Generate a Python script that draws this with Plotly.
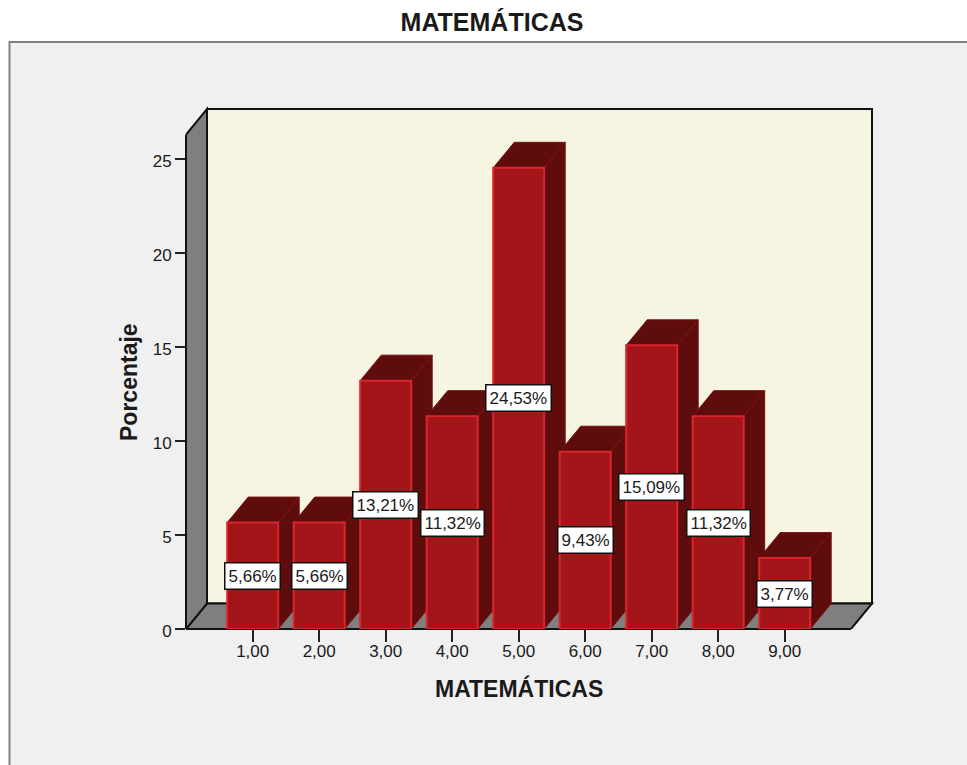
import plotly.graph_objects as go

categories = [1, 2, 3, 4, 5, 6, 7, 8, 9]
category_labels = ["1,00", "2,00", "3,00", "4,00", "5,00", "6,00", "7,00", "8,00", "9,00"]
percentages = [5.66, 5.66, 13.21, 11.32, 24.53, 9.43, 15.09, 11.32, 3.77]
y_ticks = [0, 5, 10, 15, 20, 25]

# Figure geometry, in page pixels
WIDTH, HEIGHT = 967, 765
LEFT, RIGHT, TOP, BOTTOM = 186, 876, 105, 629
PX_PER_CAT = 66.5
PX_PER_PCT = 18.8
FIRST_CAT_PX = 252.7

# Axis ranges follow from the geometry
x_min = 1 - (FIRST_CAT_PX - LEFT) / PX_PER_CAT
x_max = 1 + (RIGHT - FIRST_CAT_PX) / PX_PER_CAT
y_max = (BOTTOM - TOP) / PX_PER_PCT

# Extrusion of the pseudo-3D box
DEPTH_X = 21 / PX_PER_CAT
DEPTH_Y = 25.5 / PX_PER_PCT
BAR_WIDTH = 51 / PX_PER_CAT
floor_front_end = 1 + (851 - FIRST_CAT_PX) / PX_PER_CAT
wall_top = (BOTTOM - 109) / PX_PER_PCT

FONT = "Liberation Sans"
INK = "#1a1a1a"
FRONT = "#a31518"
DARK = "#5e0c0c"
EDGE = "#d9262e"
WALL = "#7f7f7f"
BACK = "#f6f5e1"
PANEL = "#f0f0f0"


def poly(points):
    return "M" + " L".join(f"{x},{y}" for x, y in points) + " Z"


def px_x(px):
    return (px - LEFT) / (RIGHT - LEFT)


def px_y(px):
    return (BOTTOM - px) / (BOTTOM - TOP)


shapes = [
    # Surrounding chart panel, running off the right and bottom edges
    dict(type="rect", xref="paper", yref="paper", layer="below",
         x0=px_x(9.5), x1=px_x(WIDTH + 10), y0=px_y(HEIGHT + 10), y1=px_y(42),
         fillcolor=PANEL, line=dict(color="#808080", width=2)),
    # Back wall
    dict(type="path", xref="x", yref="y", layer="below",
         path=poly([(x_min + DEPTH_X, DEPTH_Y), (x_min + DEPTH_X, wall_top),
                    (floor_front_end + DEPTH_X, wall_top), (floor_front_end + DEPTH_X, DEPTH_Y)]),
         fillcolor=BACK, line=dict(color="#111111", width=2)),
    # Floor
    dict(type="path", xref="x", yref="y", layer="below",
         path=poly([(x_min, 0), (floor_front_end, 0),
                    (floor_front_end + DEPTH_X, DEPTH_Y), (x_min + DEPTH_X, DEPTH_Y)]),
         fillcolor=WALL, line=dict(color="#111111", width=2)),
    # Left wall
    dict(type="path", xref="x", yref="y", layer="below",
         path=poly([(x_min, 0), (x_min, wall_top - DEPTH_Y),
                    (x_min + DEPTH_X, wall_top), (x_min + DEPTH_X, DEPTH_Y)]),
         fillcolor=WALL, line=dict(color="#111111", width=2)),
    # Front edges that sit on the plot boundary
    dict(type="line", xref="x", yref="paper", layer="below",
         x0=x_min, x1=floor_front_end, y0=0, y1=0,
         line=dict(color="#111111", width=2)),
    dict(type="line", xref="paper", yref="y", layer="below",
         x0=0, x1=0, y0=0, y1=wall_top - DEPTH_Y,
         line=dict(color="#111111", width=2)),
]

# Top and side faces of each bar
half = BAR_WIDTH / 2
for cat, value in zip(categories, percentages):
    shapes.append(dict(
        type="path", xref="x", yref="y", layer="below",
        path=poly([(cat + half, 0), (cat + half + DEPTH_X, DEPTH_Y),
                   (cat + half + DEPTH_X, value + DEPTH_Y), (cat + half, value)]),
        fillcolor=DARK, line=dict(color="#7a1012", width=1)))
    shapes.append(dict(
        type="path", xref="x", yref="y", layer="below",
        path=poly([(cat - half, value), (cat + half, value),
                   (cat + half + DEPTH_X, value + DEPTH_Y), (cat - half + DEPTH_X, value + DEPTH_Y)]),
        fillcolor=DARK, line=dict(color="#7a1012", width=1)))

fig = go.Figure(go.Bar(
    x=categories, y=percentages, width=BAR_WIDTH,
    marker=dict(color=FRONT, line=dict(color=EDGE, width=2)),
    cliponaxis=False, hoverinfo="skip",
))

# Value labels in the middle of each bar
annotations = [
    dict(x=cat, y=value / 2, xref="x", yref="y", showarrow=False,
         text=f"{value:.2f}%".replace(".", ","),
         font=dict(family=FONT, size=17, color=INK),
         bgcolor="white", bordercolor="#111111", borderwidth=1.5, borderpad=3)
    for cat, value in zip(categories, percentages)
]

# Axis titles
annotations.append(dict(
    x=px_x(519), y=px_y(688), xref="paper", yref="paper", showarrow=False,
    xanchor="center", yanchor="middle",
    text="<b>MATEMÁTICAS</b>", font=dict(family=FONT, size=23, color=INK)))
annotations.append(dict(
    x=px_x(129), y=px_y(382), xref="paper", yref="paper", showarrow=False, textangle=-90,
    xanchor="center", yanchor="middle",
    text="<b>Porcentaje</b>", font=dict(family=FONT, size=23, color=INK)))

fig.update_layout(
    width=WIDTH, height=HEIGHT,
    margin=dict(l=LEFT, r=WIDTH - RIGHT, t=TOP, b=HEIGHT - BOTTOM, pad=0),
    paper_bgcolor="white", plot_bgcolor="rgba(0,0,0,0)",
    showlegend=False, shapes=shapes, annotations=annotations,
    title=dict(text="<b>MATEMÁTICAS</b>", x=492 / WIDTH, xanchor="center",
               y=1 - 22 / HEIGHT, yanchor="middle",
               font=dict(family=FONT, size=25, color=INK)),
    xaxis=dict(
        range=[x_min, x_max], tickmode="array", tickvals=categories, ticktext=category_labels,
        ticks="outside", ticklen=12, tickwidth=1.5, tickcolor="#222222",
        showgrid=False, zeroline=False, showline=False, ticklabelstandoff=-5,
        tickfont=dict(family=FONT, size=17, color=INK),
    ),
    yaxis=dict(
        range=[0, y_max], tickmode="array", tickvals=y_ticks,
        ticks="outside", ticklen=10, tickwidth=1.5, tickcolor="#222222",
        showgrid=False, zeroline=False, showline=False, ticklabelshift=2,
        tickfont=dict(family=FONT, size=17, color=INK),
    ),
)

fig.write_html("out.html")
